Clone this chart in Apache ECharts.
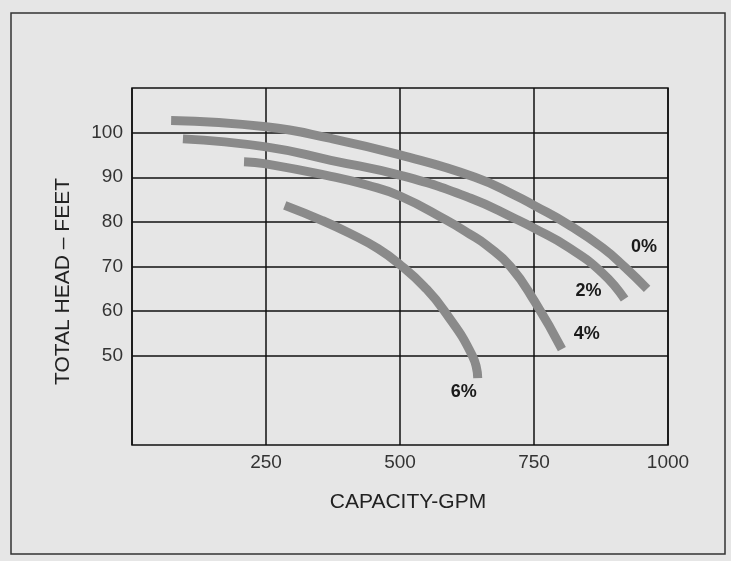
<!DOCTYPE html>
<html>
<head>
<meta charset="utf-8">
<title>Total head vs capacity</title>
<script src="https://cdn.jsdelivr.net/npm/echarts@6.0.0/dist/echarts.min.js"></script>
<style>
  html, body { margin: 0; padding: 0; background: #e6e6e6; }
  #chart { width: 731px; height: 561px; }
</style>
</head>
<body>
<div id="chart"></div>
<script>
// curves (capacity in GPM, head in feet)
var curveNames = ['0%', '2%', '4%', '6%'];
var gpm0  = [73, 250, 371, 500, 640, 717, 750, 814, 878, 920, 961];
var head0 = [102.7, 101.3, 98.7, 95, 90, 85.8, 83.7, 79.4, 74.2, 69.8, 65];
var gpm2  = [95, 250, 371, 505, 632, 717, 750, 814, 878, 919];
var head2 = [98.6, 96.8, 93.8, 90.3, 85.3, 80.6, 78.6, 74.3, 68.5, 62.7];
var gpm4  = [209, 250, 371, 440, 500, 585, 631, 661, 706, 752, 802];
var head4 = [93.5, 93, 90.2, 88.2, 85.8, 80.5, 77.2, 74.8, 70, 62, 51.5];
var gpm6  = [285, 355, 405, 459, 502, 545, 583, 635, 645];
var head6 = [83.7, 80.3, 77.5, 74, 70.2, 65.5, 60, 50, 45];

var xTicks = [250, 500, 750, 1000];
var yTicks = [50, 60, 70, 80, 90, 100];

var font = 'Liberation Sans';

function pairs(xs, ys) {
  return xs.map(function (x, i) { return [x, ys[i]]; });
}

var curves = [pairs(gpm0, head0), pairs(gpm2, head2), pairs(gpm4, head4), pairs(gpm6, head6)];
// where each percent label sits relative to the end of its band
var labelOffsets = [[-3, -42], [-36, -8], [25, -15], [-14, 14]];

// horizontal grid lines only at the labelled heads
var yLineColors = [];
for (var v = 30; v <= 110; v += 10) {
  yLineColors.push(yTicks.indexOf(v) >= 0 ? '#111' : 'rgba(0,0,0,0)');
}

var series = curves.map(function (data, i) {
  return {
    name: curveNames[i],
    type: 'line',
    data: data,
    smooth: 0.5,
    symbol: 'none',
    silent: true,
    lineStyle: { color: '#8a8a8a', width: 9, cap: 'butt' },
    endLabel: {
      show: true,
      formatter: curveNames[i],
      color: '#1a1a1a',
      fontFamily: font,
      fontSize: 18,
      fontWeight: 'bold',
      align: 'center',
      verticalAlign: 'middle',
      distance: 0,
      offset: labelOffsets[i]
    }
  };
});

var option = {
  animation: false,
  backgroundColor: '#e6e6e6',
  graphic: [{
    type: 'rect',
    shape: { x: 11, y: 13, width: 714, height: 541 },
    style: { fill: 'none', stroke: '#333', lineWidth: 1.5 }
  }],
  grid: {
    left: 132, right: 63, top: 88, bottom: 116,
    show: true,
    borderColor: '#111',
    borderWidth: 1.5,
    backgroundColor: 'transparent'
  },
  xAxis: {
    type: 'value',
    min: 0, max: 1000, interval: 250,
    name: 'CAPACITY-GPM',
    nameLocation: 'middle',
    nameGap: 47,
    nameTextStyle: { color: '#222', fontFamily: font, fontSize: 21, padding: [0, 0, 0, 16] },
    axisLine: { show: false },
    axisTick: { show: false },
    axisLabel: {
      color: '#333', fontFamily: font, fontSize: 19, margin: 8,
      formatter: function (val) { return xTicks.indexOf(val) >= 0 ? val : ''; }
    },
    splitLine: { show: true, lineStyle: { color: '#111', width: 1.5 } }
  },
  yAxis: {
    type: 'value',
    min: 30, max: 110, interval: 10,
    name: 'TOTAL HEAD \u2013 FEET',
    nameLocation: 'middle',
    nameGap: 58,
    nameTextStyle: { color: '#222', fontFamily: font, fontSize: 21, padding: [0, 30, 0, 0] },
    axisLine: { show: false },
    axisTick: { show: false },
    axisLabel: {
      color: '#333', fontFamily: font, fontSize: 19, margin: 9,
      formatter: function (val) { return yTicks.indexOf(val) >= 0 ? val : ''; }
    },
    splitLine: { show: true, lineStyle: { color: yLineColors, width: 1.5 } }
  },
  series: series
};

var chart = echarts.init(document.getElementById('chart'));
chart.setOption(option);
</script>
</body>
</html>
